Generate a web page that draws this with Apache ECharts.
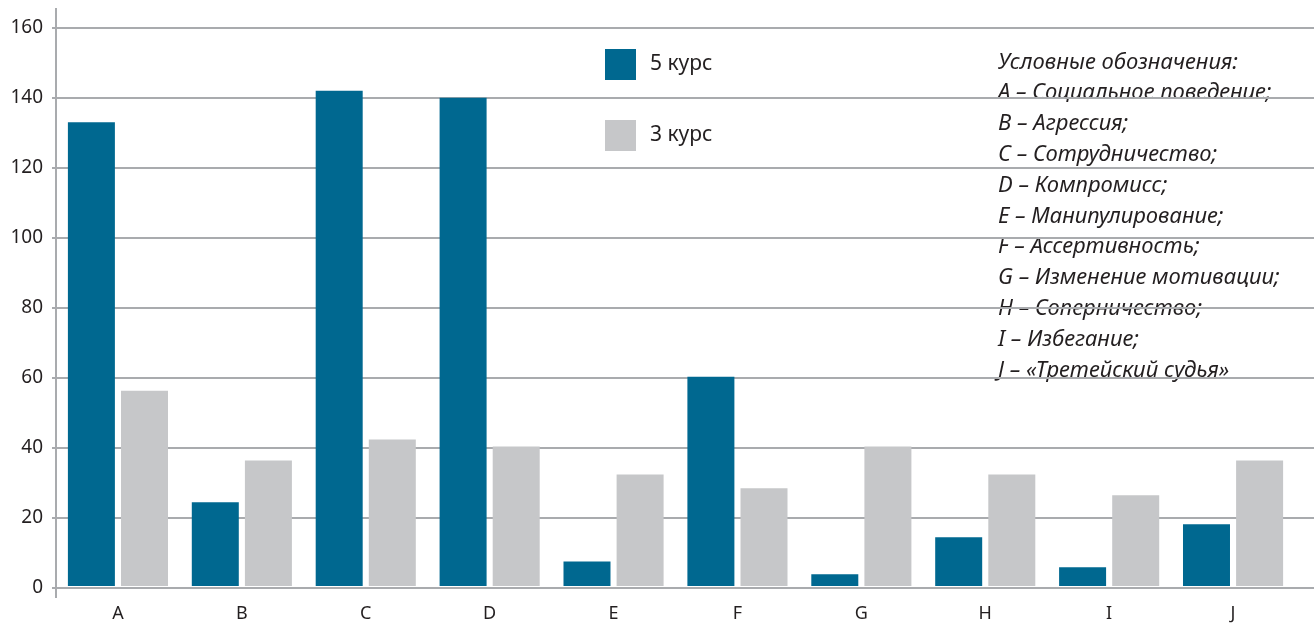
<!DOCTYPE html>
<html>
<head>
<meta charset="utf-8">
<script src="https://cdn.jsdelivr.net/npm/echarts@6/dist/echarts.min.js"></script>
<style>
  html, body { margin: 0; padding: 0; background: #fff; }
  #chart { width: 1314px; height: 623px; }
</style>
</head>
<body>
<div id="chart"></div>
<script>
// Categories and the two series (number of responses per strategy)
const categories = ['A', 'B', 'C', 'D', 'E', 'F', 'G', 'H', 'I', 'J'];
const course5 = [133, 24, 142, 140, 7, 60, 3.4, 14, 5.4, 17.7];
const course3 = [56, 36, 42, 40, 32, 28, 40, 32, 26, 36];
const seriesNames = ['5 курс', '3 курс'];
const yTicks = { min: 0, max: 160, interval: 20 };

// Legend of the letter codes shown at the right
const notesTitle = 'Условные обозначения:';
const notes = [
  'A – Социальное поведение;',
  'B – Агрессия;',
  'C – Сотрудничество;',
  'D – Компромисс;',
  'E – Манипулирование;',
  'F – Ассертивность;',
  'G – Изменение мотивации;',
  'H – Соперничество;',
  'I – Избегание;',
  'J – «Третейский судья»'
];

const FONT = '"Noto Sans", "Open Sans", sans-serif';
const TEXT = '#231f20';
const GRID = '#a9abae';

const chart = echarts.init(document.getElementById('chart'), null, { renderer: 'canvas' });

chart.setOption({
  animation: false,
  backgroundColor: '#ffffff',
  textStyle: { fontFamily: FONT, color: TEXT },
  // grid 0: full-width background with the value scale and horizontal rules
  // grid 1: the bars, ending a little short of the right edge
  grid: [
    { left: 56, right: 0, top: 28, bottom: 35, containLabel: false },
    { left: 56, right: 19, top: 28, bottom: 35, containLabel: false }
  ],
  legend: {
    orient: 'vertical',
    left: 605,
    top: 49,
    padding: 0,
    itemWidth: 31,
    itemHeight: 31,
    itemGap: 40,
    icon: 'rect',
    data: seriesNames,
    textStyle: { fontFamily: FONT, fontSize: 21, color: TEXT, padding: [2, 0, 0, 9] },
    selectedMode: false
  },
  xAxis: [
    {
      gridIndex: 0,
      type: 'value',
      show: false,
      min: 0,
      max: 1
    },
    {
      gridIndex: 1,
      type: 'category',
      data: categories,
      axisLine: { show: false },
      axisTick: { show: false },
      axisLabel: { fontFamily: FONT, fontSize: 18, color: TEXT, margin: 19 }
    }
  ],
  yAxis: [
    {
      gridIndex: 0,
      type: 'value',
      min: yTicks.min,
      max: yTicks.max,
      interval: yTicks.interval,
      axisLine: { show: false },
      axisTick: { show: true, length: 4, lineStyle: { color: GRID, width: 2 } },
      axisLabel: { fontFamily: FONT, fontSize: 19, color: TEXT, margin: 13 },
      splitLine: { show: true, lineStyle: { color: GRID, width: 2 } }
    },
    {
      gridIndex: 1,
      type: 'value',
      min: yTicks.min,
      max: yTicks.max,
      interval: yTicks.interval,
      show: false,
      splitLine: { show: false }
    }
  ],
  series: [
    {
      name: seriesNames[0],
      type: 'bar',
      xAxisIndex: 1,
      yAxisIndex: 1,
      data: course5,
      barWidth: 47,
      barGap: '13%',
      itemStyle: { color: '#006890' },
      z: 3
    },
    {
      name: seriesNames[1],
      type: 'bar',
      xAxisIndex: 1,
      yAxisIndex: 1,
      data: course3,
      barWidth: 47,
      barGap: '13%',
      itemStyle: { color: '#c6c7c9' },
      z: 3
    }
  ],
  graphic: [
    {
      // vertical axis line, running a little past both ends of the plot
      type: 'line',
      shape: { x1: 56, y1: 8, x2: 56, y2: 598 },
      style: { stroke: GRID, lineWidth: 2 },
      z: 5
    },
    {
      type: 'text',
      left: 998,
      top: 47,
      z: -1,
      style: {
        text: [notesTitle].concat(notes).join('\n'),
        font: 'italic 22px ' + FONT,
        fill: TEXT,
        lineHeight: 30.8
      }
    }
  ]
});
</script>
</body>
</html>
